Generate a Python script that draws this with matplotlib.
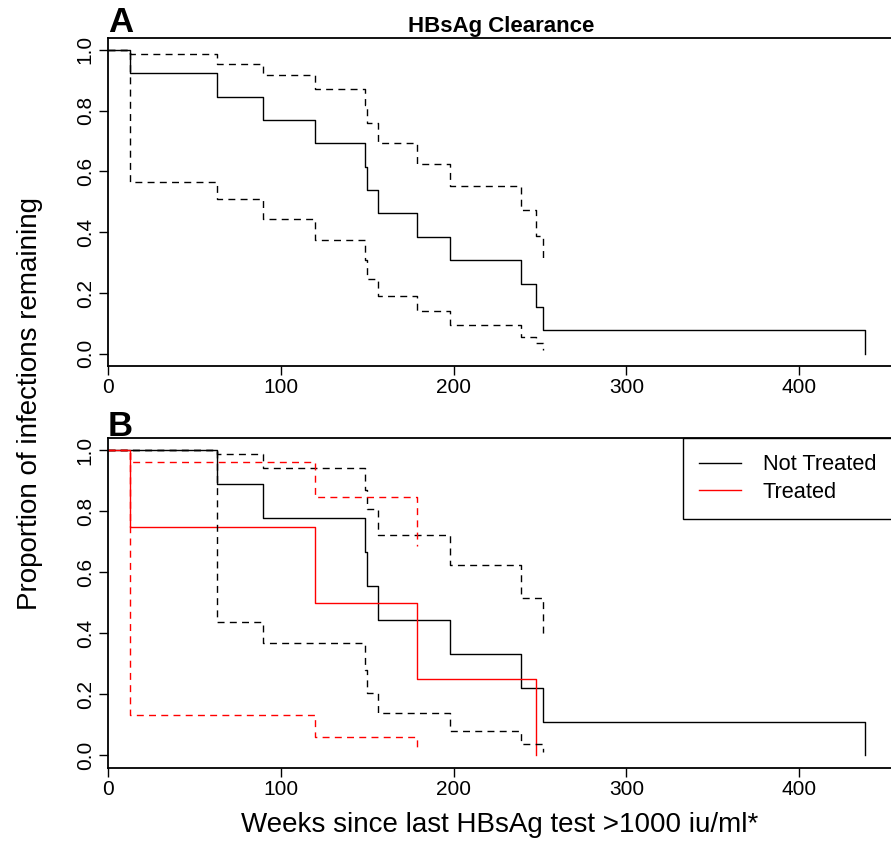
import numpy as np
import matplotlib
matplotlib.use("Agg")
import matplotlib.pyplot as plt

plt.rcParams['font.family'] = ['Liberation Sans', 'DejaVu Sans']

# panel A: all infections
times_a = [13, 63, 90, 120, 149, 150, 156, 179, 198, 239, 248, 252, 438]
surv_a = [0.923, 0.846, 0.769, 0.692, 0.615, 0.538, 0.462, 0.385, 0.308, 0.231, 0.154, 0.077, 0.0]
upper_a = [0.985, 0.955, 0.917, 0.870, 0.82, 0.759, 0.694, 0.626, 0.552, 0.474, 0.387, 0.309]
lower_a = [0.565, 0.511, 0.443, 0.373, 0.31, 0.247, 0.191, 0.140, 0.095, 0.057, 0.036, 0.013]

# panel B: not treated
times_nt = [63, 90, 149, 150, 156, 198, 239, 252, 438]
surv_nt = [0.889, 0.778, 0.667, 0.556, 0.444, 0.333, 0.222, 0.111, 0.0]
upper_nt = [0.986, 0.941, 0.87, 0.807, 0.721, 0.624, 0.515, 0.389]
lower_nt = [0.437, 0.367, 0.28, 0.206, 0.138, 0.080, 0.036, 0.013]

# panel B: treated
times_t = [13, 120, 179, 248]
surv_t = [0.75, 0.5, 0.25, 0.0]
upper_t = [0.962, 0.847, 0.686]
lower_t = [0.131, 0.061, 0.011]

xticks = [0, 100, 200, 300, 400]
yticks = [0.0, 0.2, 0.4, 0.6, 0.8, 1.0]


def km_step(times, vals):
    # step curve starting at (0, 1); vertical drop at each time
    xs, ys = [0], [1.0]
    prev = 1.0
    for t, v in zip(times, vals):
        xs += [t, t]
        ys += [prev, v]
        prev = v
    return xs, ys


W, H = 891, 846
fig = plt.figure(figsize=(W / 100, H / 100), dpi=100)

x0, x1 = 108, 895
ax_a = fig.add_axes([x0 / W, 1 - 366 / H, (x1 - x0) / W, (366 - 37.7) / H])
ax_b = fig.add_axes([x0 / W, 1 - 767.7 / H, (x1 - x0) / W, (767.7 - 438) / H])

lw = 1.0
dash = (0, (5, 3.8))

ax_a.plot(*km_step(times_a, surv_a), color='black', lw=lw)
ax_a.plot(*km_step(times_a[:len(upper_a)], upper_a), color='black', lw=lw, linestyle=dash)
ax_a.plot(*km_step(times_a[:len(lower_a)], lower_a), color='black', lw=lw, linestyle=dash)

ax_b.plot(*km_step(times_nt, surv_nt), color='black', lw=lw, label='Not Treated')
ax_b.plot(*km_step(times_t, surv_t), color='red', lw=lw, label='Treated')
ax_b.plot(*km_step(times_nt[:len(upper_nt)], upper_nt), color='black', lw=lw, linestyle=dash)
ax_b.plot(*km_step(times_nt[:len(lower_nt)], lower_nt), color='black', lw=lw, linestyle=dash)
ax_b.plot(*km_step(times_t[:len(upper_t)], upper_t), color='red', lw=lw, linestyle=dash)
ax_b.plot(*km_step(times_t[:len(lower_t)], lower_t), color='red', lw=lw, linestyle=dash)

for ax in (ax_a, ax_b):
    ax.set_xlim(0, 455.5)
    ax.set_ylim(-0.04, 1.04)
    ax.set_xticks(xticks)
    ax.set_xticklabels([str(v) for v in xticks])
    ax.set_yticks(yticks)
    ax.set_yticklabels([f'{v:.1f}' for v in yticks], rotation=90, va='center')
    ax.tick_params(direction='out', length=6.5, width=1.0, labelsize=15, pad=2)
    ax.tick_params(axis='y', pad=3)
    for s in ax.spines.values():
        s.set_linewidth(1.3)

ax_a.set_title('HBsAg Clearance', fontsize=16, fontweight='bold', pad=4)

fig.text(108 / W, 1 - 32 / H, 'A', fontsize=25, fontweight='bold', ha='left', va='baseline')
fig.text(108 / W, 1 - 436 / H, 'B', fontsize=25, fontweight='bold', ha='left', va='baseline')

leg = ax_b.legend(loc='upper left', bbox_to_anchor=(683 / W, 1 - 438 / H),
                  bbox_transform=fig.transFigure, fontsize=15.7, frameon=True,
                  fancybox=False, edgecolor='black', framealpha=1,
                  handlelength=1.9, handletextpad=1.0, borderpad=0.75,
                  labelspacing=0.3, borderaxespad=0)
leg.get_frame().set_linewidth(1.0)

fig.text(30 / W, 1 - 403 / H, 'Proportion of infections remaining', fontsize=20,
         rotation=90, ha='center', va='center')
fig.text(500 / W, 1 - 832 / H, 'Weeks since last HBsAg test >1000 iu/ml*', fontsize=20,
         ha='center', va='baseline')

fig.savefig('out.png', dpi=100)
